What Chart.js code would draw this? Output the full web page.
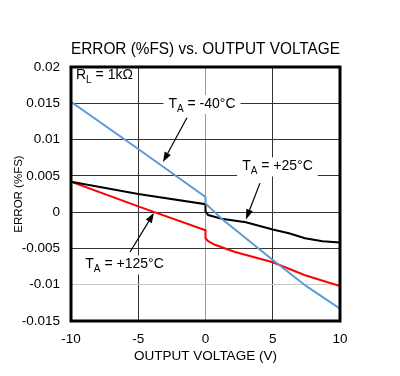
<!DOCTYPE html>
<html>
<head>
<meta charset="utf-8">
<script src="https://cdn.jsdelivr.net/npm/chart.js@4.4.0/dist/chart.umd.min.js"></script>
<style>
  html, body { margin: 0; padding: 0; background: #fff; }
  #wrap { width: 400px; height: 376px; }
</style>
</head>
<body>
<div id="wrap"><canvas id="errChart" width="400" height="376"></canvas></div>
<script>
// 數據：輸出電壓 (V) 與誤差 (%FS)
const blueVolt = [-10, -5, 0, 0, 1.2, 3, 5, 7.5, 10];
const blueErr = [0.0152, 0.0087, 0.0021, 0.0012, -0.0009, -0.0036, -0.0066, -0.0102, -0.0133];

const blackVolt = [-10, -5, 0, 0, 0.2, 1.2, 3, 5, 6.2, 7.4, 8.7, 10];
const blackErr = [0.0042, 0.0025, 0.0011, 0.0001, -0.0004, -0.0009, -0.0014, -0.0024, -0.0029, -0.0036, -0.0040, -0.0042];

const redVolt = [-10, -5, 0, 0, 0.2, 0.7, 2.2, 5, 7.4, 10];
const redErr = [0.0042, 0.0008, -0.0025, -0.0036, -0.0040, -0.0045, -0.0055, -0.0069, -0.0087, -0.0102];

const seriesNames = ['TA = -40°C', 'TA = +25°C', 'TA = +125°C'];

// 刻度
const xTickValues = [-10, -5, 0, 5, 10];
const xTickLabels = ['-10', '-5', '0', '5', '10'];
const yTickValues = [0.02, 0.015, 0.01, 0.005, 0, -0.005, -0.01, -0.015];
const yTickLabels = ['0.02', '0.015', '0.01', '0.005', '0', '-0.005', '-0.01', '-0.015'];

const FONT = 'Arial, "Liberation Sans", sans-serif';

function toPoints(xs, ys) {
    return xs.map((x, i) => ({ x: x, y: ys[i] }));
}

// 標註：文字位置以資料座標表示
const notes = [
    { parts: [['T', 0], ['A', 1], [' = -40°C', 0]], at: [-0.26, 0.0149], arrow: [[-1.38, 0.0130], [-3.16, 0.0069]] },
    { parts: [['T', 0], ['A', 1], [' = +25°C', 0]], at: [5.35, 0.0063], arrow: [[4.05, 0.0040], [3.01, -0.0010]] },
    { parts: [['T', 0], ['A', 1], [' = +125°C', 0]], at: [-6.02, -0.0072], arrow: [[-5.61, -0.0055], [-3.83, -0.0001]] }
];

function partsWidth(ctx, parts) {
    let w = 0;
    parts.forEach(p => {
        ctx.font = (p[1] ? '10px ' : '14px ') + FONT;
        w += ctx.measureText(p[0]).width;
    });
    return w;
}

function drawParts(ctx, parts, x, y) {
    ctx.textBaseline = 'middle';
    ctx.textAlign = 'left';
    ctx.fillStyle = '#000';
    parts.forEach(p => {
        ctx.font = (p[1] ? '10px ' : '14px ') + FONT;
        ctx.fillText(p[0], x, p[1] ? y + 5 : y);
        x += ctx.measureText(p[0]).width;
    });
}

function drawArrow(ctx, x1, y1, x2, y2) {
    const ang = Math.atan2(y2 - y1, x2 - x1);
    const len = 10, half = 3.5;
    ctx.strokeStyle = '#000';
    ctx.lineWidth = 1.2;
    ctx.beginPath();
    ctx.moveTo(x1, y1);
    ctx.lineTo(x2 - Math.cos(ang) * len, y2 - Math.sin(ang) * len);
    ctx.stroke();
    ctx.fillStyle = '#000';
    ctx.beginPath();
    ctx.moveTo(x2, y2);
    ctx.lineTo(x2 - Math.cos(ang) * len - Math.sin(ang) * half, y2 - Math.sin(ang) * len + Math.cos(ang) * half);
    ctx.lineTo(x2 - Math.cos(ang) * len + Math.sin(ang) * half, y2 - Math.sin(ang) * len - Math.cos(ang) * half);
    ctx.closePath();
    ctx.fill();
}

// 外框、標註文字與箭頭
const annotatePlugin = {
    id: 'annotate',
    beforeDatasetsDraw(chart) {
        const ctx = chart.ctx, xs = chart.scales.x, ys = chart.scales.y;
        ctx.save();
        ctx.fillStyle = '#fff';
        notes.forEach(n => {
            const w = partsWidth(ctx, n.parts);
            const cx = xs.getPixelForValue(n.at[0]), cy = ys.getPixelForValue(n.at[1]);
            ctx.fillRect(cx - w / 2 - 5, cy - 9, w + 10, 19);
        });
        ctx.restore();
    },
    afterDatasetsDraw(chart) {
        const ctx = chart.ctx, xs = chart.scales.x, ys = chart.scales.y;
        ctx.save();
        notes.forEach(n => {
            const w = partsWidth(ctx, n.parts);
            const cx = xs.getPixelForValue(n.at[0]), cy = ys.getPixelForValue(n.at[1]);
            drawParts(ctx, n.parts, cx - w / 2, cy);
            drawArrow(ctx,
                xs.getPixelForValue(n.arrow[0][0]), ys.getPixelForValue(n.arrow[0][1]),
                xs.getPixelForValue(n.arrow[1][0]), ys.getPixelForValue(n.arrow[1][1]));
        });
        // R_L = 1kΩ
        const a = chart.chartArea;
        drawParts(ctx, [['R', 0], ['L', 1], [' = 1kΩ', 0]], a.left + 5, a.top + 8);
        ctx.restore();
    },
    afterDraw(chart) {
        const ctx = chart.ctx, a = chart.chartArea;
        ctx.save();
        ctx.strokeStyle = '#000';
        ctx.lineWidth = 3;
        ctx.strokeRect(a.left, a.top, a.right - a.left, a.bottom - a.top);
        ctx.restore();
    }
};

const ctx = document.getElementById('errChart').getContext('2d');
const errChart = new Chart(ctx, {
    type: 'line',
    data: {
        datasets: [
            { label: seriesNames[0], data: toPoints(blueVolt, blueErr), borderColor: '#5B9BD5', borderWidth: 2 },
            { label: seriesNames[1], data: toPoints(blackVolt, blackErr), borderColor: '#000000', borderWidth: 2 },
            { label: seriesNames[2], data: toPoints(redVolt, redErr), borderColor: '#FF0000', borderWidth: 2 }
        ]
    },
    options: {
        responsive: false,
        animation: false,
        events: [],
        elements: { point: { radius: 0 }, line: { tension: 0 } },
        layout: { padding: { left: 0, right: 60, top: 0, bottom: 0 } },
        plugins: {
            legend: { display: false },
            tooltip: { enabled: false },
            title: {
                display: true,
                fullSize: false,
                text: 'ERROR (%FS) vs. OUTPUT VOLTAGE',
                color: '#000',
                font: { family: FONT, size: 16.6, weight: 'normal', lineHeight: 1 },
                padding: { top: 41, bottom: 9.4 }
            }
        },
        scales: {
            x: {
                type: 'linear',
                min: -10,
                max: 10,
                afterBuildTicks: s => { s.ticks = xTickValues.map(v => ({ value: v })); },
                afterFit: s => { s.height = 55; },
                ticks: {
                    color: '#000',
                    padding: 10,
                    font: { family: FONT, size: 13.5 },
                    callback: (v, i) => xTickLabels[i]
                },
                grid: {
                    drawTicks: false,
                    lineWidth: 1,
                    color: c => (c.tick && c.tick.value === 0 ? '#999999' : '#333333')
                },
                border: { display: false },
                title: {
                    display: true,
                    text: 'OUTPUT VOLTAGE (V)',
                    color: '#000',
                    font: { family: FONT, size: 13.5 },
                    padding: { top: 0, bottom: 12 }
                }
            },
            y: {
                type: 'linear',
                min: -0.015,
                max: 0.02,
                afterBuildTicks: s => { s.ticks = yTickValues.map(v => ({ value: v })); },
                afterFit: s => { s.width = 71; },
                ticks: {
                    color: '#000',
                    padding: 11,
                    font: { family: FONT, size: 13.5 },
                    callback: (v, i) => yTickLabels[i]
                },
                grid: {
                    drawTicks: false,
                    lineWidth: 1,
                    color: c => (c.tick && c.tick.value === -0.01 ? '#c8c8c8' : '#333333')
                },
                border: { display: false },
                title: {
                    display: true,
                    text: 'ERROR (%FS)',
                    color: '#000',
                    font: { family: FONT, size: 11.5 },
                    padding: { top: 12, bottom: 0 }
                }
            }
        }
    },
    plugins: [annotatePlugin]
});
</script>
</body>
</html>
